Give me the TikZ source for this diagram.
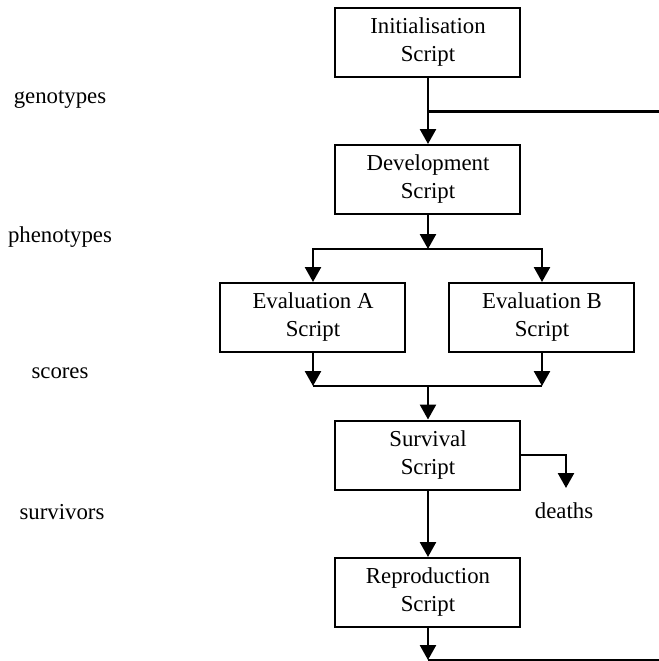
\documentclass[tikz,border=0pt]{standalone}
\usepackage{fontspec}
\setmainfont{Liberation Serif}
\usetikzlibrary{arrows.meta}

\tikzset{
  script/.style={draw, line width=1pt, minimum width=92.5pt, minimum height=34.5pt,
    inner sep=0pt, align=center, font=\fontsize{11.4}{14}\selectfont},
  datatext/.style={inner sep=0pt, font=\fontsize{11.4}{14}\selectfont},
  link/.style={line width=1.3pt},
  flow/.style={link, -{Triangle[width=8pt,length=7.5pt]}}
}

\begin{document}
\begin{tikzpicture}[x=0.5pt,y=-0.5pt]
		\useasboundingbox (0,0) rectangle (659,661);
		% scripts
		\node[script] (init) at (428,42) {Initialisation\\Script};
		\node[script] (dev) at (428,179.5) {Development\\Script};
		\node[script] (evalA) at (313,317.5) {Evaluation A\\Script};
		\node[script] (evalB) at (542,317.5) {Evaluation B\\Script};
		\node[script] (surv) at (428,455) {Survival\\Script};
		\node[script] (repro) at (428,592.5) {Reproduction\\Script};
		% data between the scripts
		\node[datatext] (geno) at (60,100) {genotypes};
		\node[datatext] (pheno) at (60,237) {phenotypes};
		\node[datatext] (scores) at (60,373) {scores};
		\node[datatext] (survivors) at (62,512) {survivors};
		\node[datatext] (deaths) at (564,511) {deaths};
		\coordinate (split) at (428,249);
		\coordinate (merge) at (428,386);
		\coordinate (genoout) at (659,111.5);
		\coordinate (deathsin) at (566,488);
		\coordinate (offout) at (659,660);
		% connectors
		\draw[flow] (init) -- (dev);
		\draw[link] (init.south |- genoout) -- (genoout);
		\draw[flow] (dev) -- (split);
		\draw[flow] (split) -| (evalA);
		\draw[flow] (split) -| (evalB);
		\draw[flow] (evalA) -- (evalA |- merge);
		\draw[flow] (evalB) -- (evalB |- merge);
		\draw[link] (evalA |- merge) -- (evalB |- merge);
		\draw[flow] (merge) -- (surv);
		\draw[flow] (surv.east) -| (deathsin);
		\draw[flow] (surv) -- (repro);
		\draw[flow] (repro) -- (repro |- offout);
		\draw[link] (repro |- offout) -- (offout);
\end{tikzpicture}
\end{document}
